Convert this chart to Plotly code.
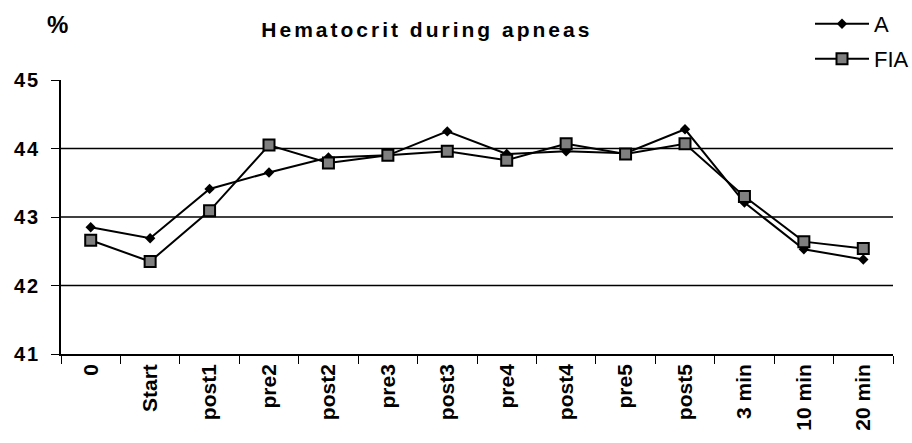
import plotly.graph_objects as go

categories = ["0", "Start", "post1", "pre2", "post2", "pre3", "post3",
              "pre4", "post4", "pre5", "post5", "3 min", "10 min", "20 min"]
series_a = [42.85, 42.69, 43.41, 43.65, 43.87, 43.90, 44.25,
            43.92, 43.96, 43.93, 44.28, 43.21, 42.53, 42.38]
series_fia = [42.66, 42.35, 43.09, 44.05, 43.79, 43.90, 43.96,
              43.83, 44.07, 43.92, 44.07, 43.30, 42.64, 42.54]
y_ticks = [41, 42, 43, 44, 45]
grid_levels = [42, 43, 44]

FONT = "Liberation Sans, Arial, sans-serif"
W, H = 912, 443
ML, MR, MT, MB = 61, 19, 80, 89
PW, PH = W - ML - MR, H - MT - MB

fig = go.Figure()
fig.add_trace(go.Scatter(
    x=categories, y=series_a, name="A", mode="lines+markers",
    line=dict(color="black", width=2),
    marker=dict(symbol="diamond", size=8, color="black"),
    legend="legend", showlegend=True,
))
fig.add_trace(go.Scatter(
    x=categories, y=series_fia, name="FIA", mode="lines+markers",
    line=dict(color="black", width=2),
    marker=dict(symbol="square", size=11, color="#7f7f7f",
                line=dict(color="black", width=2)),
    legend="legend2", showlegend=True,
))

for g in grid_levels:
    fig.add_shape(type="line", xref="paper", x0=0, x1=1, yref="y", y0=g, y1=g,
                  line=dict(color="black", width=1.3), layer="below")

LEG_X = 810
fig.update_layout(
    width=W, height=H,
    margin=dict(l=ML, r=MR, t=MT, b=MB, autoexpand=False),
    paper_bgcolor="white", plot_bgcolor="white",
    font=dict(family=FONT, color="black"),
    showlegend=True,
    title=dict(
        text='<b><span style="letter-spacing:3px">Hematocrit during apneas</span></b>',
        x=0.468, xanchor="center", xref="container",
        y=1 - 30 / H, yanchor="middle", yref="container",
        font=dict(size=21, family=FONT, color="black"),
    ),
    legend=dict(
        xref="container", yref="container", x=LEG_X / W, y=1 - 3 / H,
        xanchor="left", yanchor="top", bgcolor="rgba(0,0,0,0)",
        font=dict(size=22, family=FONT, color="black"), itemwidth=54,
    ),
    legend2=dict(
        xref="container", yref="container", x=LEG_X / W, y=1 - 38 / H,
        xanchor="left", yanchor="top", bgcolor="rgba(0,0,0,0)",
        font=dict(size=22, family=FONT, color="black"), itemwidth=54,
    ),
    annotations=[dict(
        text="<b>%</b>", xref="paper", yref="paper",
        x=(57 - ML) / PW, y=(H - MB - 24) / PH, xanchor="center", yanchor="middle",
        showarrow=False, font=dict(size=24, family=FONT, color="black"),
    )],
)

fig.update_xaxes(
    type="category", categoryorder="array", categoryarray=categories,
    range=[-0.5, len(categories) - 0.5],
    tickangle=-90, tickson="boundaries", ticks="outside", ticklen=8,
    tickcolor="black", tickwidth=1.3,
    tickfont=dict(size=21, family=FONT, color="black", weight="bold"),
    showline=True, linecolor="black", linewidth=1.5, showgrid=False,
    mirror=False,
)
fig.update_yaxes(
    range=[41, 45], tickvals=y_ticks,
    ticktext=['<span style="letter-spacing:2px">%d</span>' % v for v in y_ticks],
    ticks="outside", ticklen=8, tickcolor="black", tickwidth=1.3,
    tickfont=dict(size=20, family=FONT, color="black", weight="bold"),
    showline=True, linecolor="black", linewidth=1.5, showgrid=False,
    zeroline=False, ticklabelstandoff=7,
)

fig.write_html("out.html", config={"displayModeBar": False},
               post_script="document.body.style.margin='0';")
